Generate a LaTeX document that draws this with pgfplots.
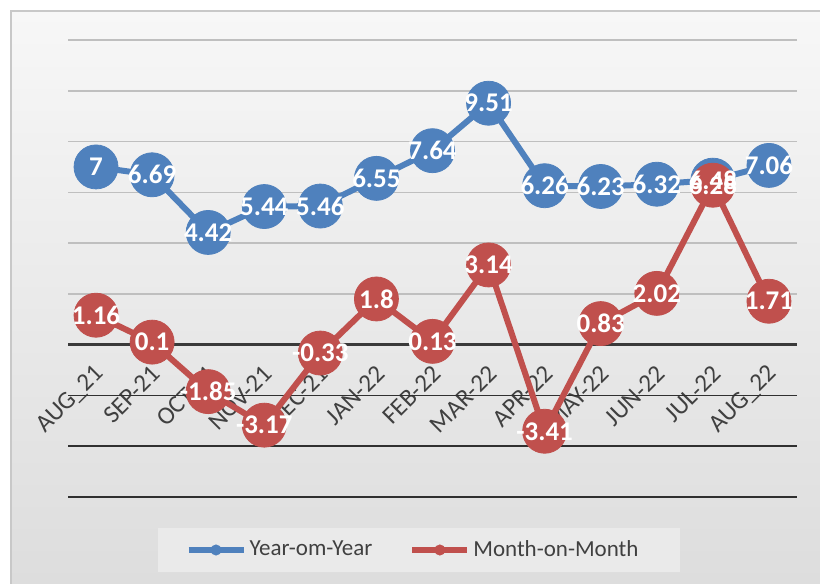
\documentclass[border=0pt]{standalone}
\usepackage{pgfplots}
\pgfplotsset{compat=1.18}
\usepackage{pgfplotstable}
\usepackage{fontspec}
\setmainfont{Carlito}
\definecolor{blueC}{HTML}{4F81BD}
\definecolor{redC}{HTML}{C0504D}
\definecolor{gridup}{HTML}{BFBFBF}
\definecolor{griddown}{HTML}{303030}
\definecolor{zeroC}{HTML}{3A3A3A}
\definecolor{txtC}{HTML}{404040}
\pgfdeclarelayer{bgpic}
\pgfplotsset{
  layers/mylayers/.define layer set={bgpic,axis background,axis grid,axis ticks,axis lines,main,axis tick labels,axis descriptions,axis foreground}{},
}
\pgfplotstableread{
x yoy mom
0 7 1.16
1 6.69 0.1
2 4.42 -1.85
3 5.44 -3.17
4 5.46 -0.33
5 6.55 1.8
6 7.64 0.13
7 9.51 3.14
8 6.26 -3.41
9 6.23 0.83
10 6.32 2.02
11 6.48 6.28
12 7.06 1.71
}\datatab
\begin{document}
\begin{tikzpicture}[x=1pt,y=1pt]
\begin{axis}[
  set layers=mylayers,
  at={(34pt,43.5pt)}, anchor=south west,
  scale only axis, width=364.5pt, height=228.5pt,
  xmin=-0.5, xmax=12.5, ymin=-6, ymax=12,
  axis x line*=middle, axis y line*=left,
  x axis line style={line width=1.6pt, color=zeroC},
  y axis line style={draw=none},
  major tick length=0pt,
  xtick={0,...,12},
  xticklabels={AUG\_21,SEP-21,OCT-21,NOV-21,DEC-21,JAN-22,FEB-22,MAR-22,APR-22,MAY-22,JUN-22,JUL-22,AUG\_22},
  xticklabel style={rotate=45, anchor=east, yshift=-10.4pt, xshift=-4.1pt, font=\fontsize{12.5}{14}\selectfont, text=txtC},
  ytick={2,4,...,12}, yticklabels={},
  ymajorgrids, grid style={line width=0.8pt, color=gridup},
  extra y ticks={-6,-4,-2}, extra y tick labels={},
  extra y tick style={grid style={line width=0.9pt, color=griddown}},
  clip=false,
  legend columns=2,
  legend style={at={(0.474,-0.116)}, anchor=center, draw=none, fill=none,
    font=\fontsize{11.5}{13}\selectfont, text=txtC,
    /tikz/every even column/.append style={column sep=17pt},
    nodes={inner sep=1.5pt}},
  legend image code/.code={\draw[mark repeat=2, mark phase=2, #1] plot coordinates {(0pt,0pt) (13.75pt,0pt) (27.5pt,0pt)};},
]
\addplot[blueC, line width=3pt, mark=*, mark size=11pt, mark options={line width=0.4pt, fill=blueC, draw=blueC}, forget plot] table[x=x,y=yoy] {\datatab};
\addplot[redC, line width=3pt, mark=*, mark size=11pt, mark options={line width=0.4pt, fill=redC, draw=redC}, forget plot] table[x=x,y=mom] {\datatab};
\addplot[on layer=axis foreground, draw=none, mark=none, forget plot, point meta=explicit symbolic, nodes near coords,
  every node near coord/.append style={anchor=center, text=white, font=\fontsize{13.5}{14}\selectfont\bfseries, inner sep=0pt}]
  table[x=x,y=yoy,meta=yoy] {\datatab};
\addplot[on layer=axis foreground, draw=none, mark=none, forget plot, point meta=explicit symbolic, nodes near coords,
  every node near coord/.append style={anchor=center, text=white, font=\fontsize{13.5}{14}\selectfont\bfseries, inner sep=0pt}]
  table[x=x,y=mom,meta=mom] {\datatab};
\addlegendimage{blueC, line width=3pt, mark=*, mark size=2.6pt, mark options={line width=0.3pt, fill=blueC}}
\addlegendentry{Year-om-Year}
\addlegendimage{redC, line width=3pt, mark=*, mark size=2.6pt, mark options={line width=0.3pt, fill=redC}}
\addlegendentry{Month-on-Month}
\end{axis}
\begin{pgfonlayer}{bgpic}
\shade[top color={rgb,255:red,247;green,247;blue,247}, bottom color={rgb,255:red,221;green,221;blue,221}] (5.5,0) rectangle (410,286.5);
\draw[line width=0.9pt, color={rgb,255:red,200;green,200;blue,200}] (5.5,0) -- (5.5,286.5) -- (410,286.5);
\fill[color={rgb,255:red,234;green,234;blue,234}] (79,6) rectangle (340,28);
\end{pgfonlayer}
\pgfresetboundingbox
\path[use as bounding box] (0,0) rectangle (410,292);
\end{tikzpicture}
\end{document}
